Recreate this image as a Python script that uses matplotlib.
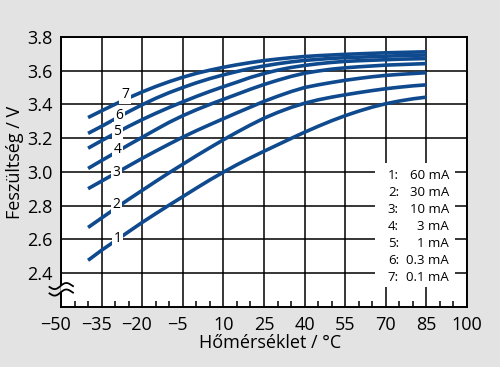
import matplotlib.pyplot as plt
import matplotlib.transforms as mtransforms
import numpy as np
from matplotlib.patches import Rectangle
from matplotlib.ticker import MultipleLocator

OUTPUT_FILE = "out.png"

BACKGROUND = "#e3e3e3"
CURVE_COLOR = "#0f4a8e"

plt.rcParams["font.family"] = ["Open Sans", "DejaVu Sans"]

TEMPERATURES = [
    -40, -35, -30, -25, -20, -15, -10, -5, 0, 5, 10, 15, 20,
    25, 30, 35, 40, 45, 50, 55, 60, 65, 70, 75, 80, 85,
]

# Cell voltage (V) per discharge current
CURVE_1 = [
    2.475, 2.535, 2.59, 2.645, 2.70, 2.752, 2.803, 2.853, 2.903, 2.952,
    2.998, 3.042, 3.083, 3.122, 3.16, 3.198, 3.235, 3.27, 3.303, 3.333,
    3.36, 3.384, 3.404, 3.42, 3.433, 3.443,
]
CURVE_2 = [
    2.67, 2.726, 2.782, 2.837, 2.89, 2.943, 2.995, 3.045, 3.095, 3.143,
    3.19, 3.235, 3.278, 3.318, 3.352, 3.382, 3.407, 3.427, 3.443, 3.457,
    3.47, 3.482, 3.493, 3.502, 3.51, 3.516,
]
CURVE_3 = [
    2.90, 2.945, 2.99, 3.035, 3.08, 3.123, 3.165, 3.206, 3.244, 3.28,
    3.315, 3.35, 3.384, 3.418, 3.448, 3.476, 3.50, 3.516, 3.53, 3.543,
    3.554, 3.564, 3.572, 3.578, 3.583, 3.588,
]
CURVE_4 = [
    3.02, 3.067, 3.113, 3.16, 3.205, 3.25, 3.294, 3.333, 3.368, 3.40,
    3.43, 3.46, 3.49, 3.518, 3.543, 3.566, 3.585, 3.598, 3.609, 3.617,
    3.623, 3.628, 3.633, 3.636, 3.639, 3.642,
]
CURVE_5 = [
    3.14, 3.185, 3.228, 3.27, 3.31, 3.347, 3.382, 3.415, 3.447, 3.477,
    3.505, 3.532, 3.56, 3.583, 3.603, 3.619, 3.631, 3.641, 3.649, 3.655,
    3.659, 3.662, 3.665, 3.668, 3.67, 3.672,
]
CURVE_6 = [
    3.228, 3.27, 3.314, 3.357, 3.398, 3.436, 3.47, 3.50, 3.528, 3.553,
    3.575, 3.595, 3.613, 3.628, 3.641, 3.652, 3.661, 3.667, 3.673, 3.677,
    3.68, 3.683, 3.686, 3.689, 3.691, 3.693,
]
CURVE_7 = [
    3.322, 3.362, 3.401, 3.439, 3.474, 3.506, 3.535, 3.561, 3.584, 3.603,
    3.62, 3.635, 3.648, 3.66, 3.669, 3.677, 3.684, 3.689, 3.693, 3.697,
    3.70, 3.703, 3.706, 3.708, 3.71, 3.712,
]

CURVE_NUMBERS = ["1", "2", "3", "4", "5", "6", "7"]
CURRENTS = ["60 mA", "30 mA", "10 mA", "3 mA", "1 mA", "0.3 mA", "0.1 mA"]

# where the curve numbers sit (temperature, voltage)
LABEL_T = [-29.2, -29.4, -29.4, -29.2, -29.2, -28.5, -26.4]
LABEL_V = [2.604, 2.807, 2.998, 3.132, 3.24, 3.333, 3.457]

X_TICKS = [-50, -35, -20, -5, 10, 25, 40, 55, 70, 85, 100]
Y_TICKS = [2.4, 2.6, 2.8, 3.0, 3.2, 3.4, 3.6, 3.8]
Y_TICK_LABELS = ["2.4", "2.6", "2.8", "3.0", "3.2", "3.4", "3.6", "3.8"]


def px_to_fig(x, y):
    return x / 500, 1 - y / 367


def draw_x_labels(fig, ax):
    """Digits centred on the tick, minus sign hanging to the left."""
    base = mtransforms.blended_transform_factory(ax.transData, ax.transAxes)
    for tick in X_TICKS:
        text = str(abs(tick))
        trans = base
        if tick < 0:
            text = "\u2212" + text
            trans = base + mtransforms.ScaledTranslation(
                -5.4 / 100, 0, fig.dpi_scale_trans
            )
        ax.text(tick, -0.0864, text, transform=trans, ha="center",
                va="baseline", fontsize=13, clip_on=False)


def draw_axis_break(fig):
    """The little '≈' that marks the cut in the voltage axis."""
    dx = np.linspace(-11.5, 12, 60)
    upper = 286 - 2.6 * np.sin(2 * np.pi * (dx + 0.5) / 22) - 0.08 * dx
    lower = upper + 6.5
    for side, colour in ((dx <= 0, BACKGROUND), (dx >= 0, "white")):
        xs = (61 + dx[side]) / 500
        fig.patches.append(plt.Polygon(
            np.column_stack([
                np.concatenate([xs, xs[::-1]]),
                np.concatenate([1 - upper[side] / 367,
                                (1 - lower[side] / 367)[::-1]]),
            ]),
            closed=True, transform=fig.transFigure, facecolor=colour,
            edgecolor="none", zorder=5,
        ))
    for ys in (upper, lower):
        fig.add_artist(plt.Line2D((61 + dx) / 500, 1 - ys / 367,
                                  color="black", linewidth=1.3, zorder=6))


def main():
    fig = plt.figure(figsize=(5, 3.67), dpi=100, facecolor=BACKGROUND)
    ax = fig.add_axes([0.122, 0.1643, 0.812, 0.735])

    ax.set_xlim(-50, 100)
    ax.set_ylim(2.2, 3.8)

    ax.set_xticks(X_TICKS)
    ax.xaxis.set_minor_locator(MultipleLocator(5))
    ax.set_yticks(Y_TICKS)
    ax.set_yticklabels(Y_TICK_LABELS)

    ax.tick_params(axis="y", length=0, pad=6, labelsize=13)
    ax.tick_params(axis="x", which="major", length=0, labelbottom=False)
    ax.tick_params(axis="x", which="minor", direction="in",
                   length=4.5, width=1.1, color="black")

    ax.grid(True, which="major", color="black", linewidth=1.1)
    ax.set_axisbelow(True)
    for spine in ax.spines.values():
        spine.set_linewidth(1.4)

    curves = [CURVE_1, CURVE_2, CURVE_3, CURVE_4, CURVE_5, CURVE_6, CURVE_7]
    for values in curves:
        ax.plot(TEMPERATURES, values, color=CURVE_COLOR, linewidth=2.6,
                solid_capstyle="butt", zorder=3)

    for number, t, v in zip(CURVE_NUMBERS, LABEL_T, LABEL_V):
        ax.text(t, v, number, fontsize=10, ha="center", va="center",
                zorder=4,
                bbox=dict(facecolor="white", edgecolor="none", pad=1.2))

    # white panel behind the current legend
    ax.add_patch(Rectangle((0.773, 0.073), 0.197, 0.46,
                           transform=ax.transAxes, facecolor="white",
                           edgecolor="none", zorder=1))
    for i, (number, current) in enumerate(zip(CURVE_NUMBERS, CURRENTS)):
        y = 0.488 - i * 0.0632
        ax.text(0.805, y, f"{number}:", transform=ax.transAxes,
                fontsize=9.5, ha="left", va="center", zorder=2)
        ax.text(0.956, y, current, transform=ax.transAxes,
                fontsize=9.5, ha="right", va="center", zorder=2)

    draw_x_labels(fig, ax)
    draw_axis_break(fig)

    fig.text(*px_to_fig(15, 162), "Feszültség / V", rotation=90,
             fontsize=13, ha="center", va="center")
    fig.text(*px_to_fig(270, 343), "Hőmérséklet / °C",
             fontsize=13, ha="center", va="center")

    fig.savefig(OUTPUT_FILE, dpi=100, facecolor=BACKGROUND)
    plt.close(fig)


if __name__ == "__main__":
    main()
